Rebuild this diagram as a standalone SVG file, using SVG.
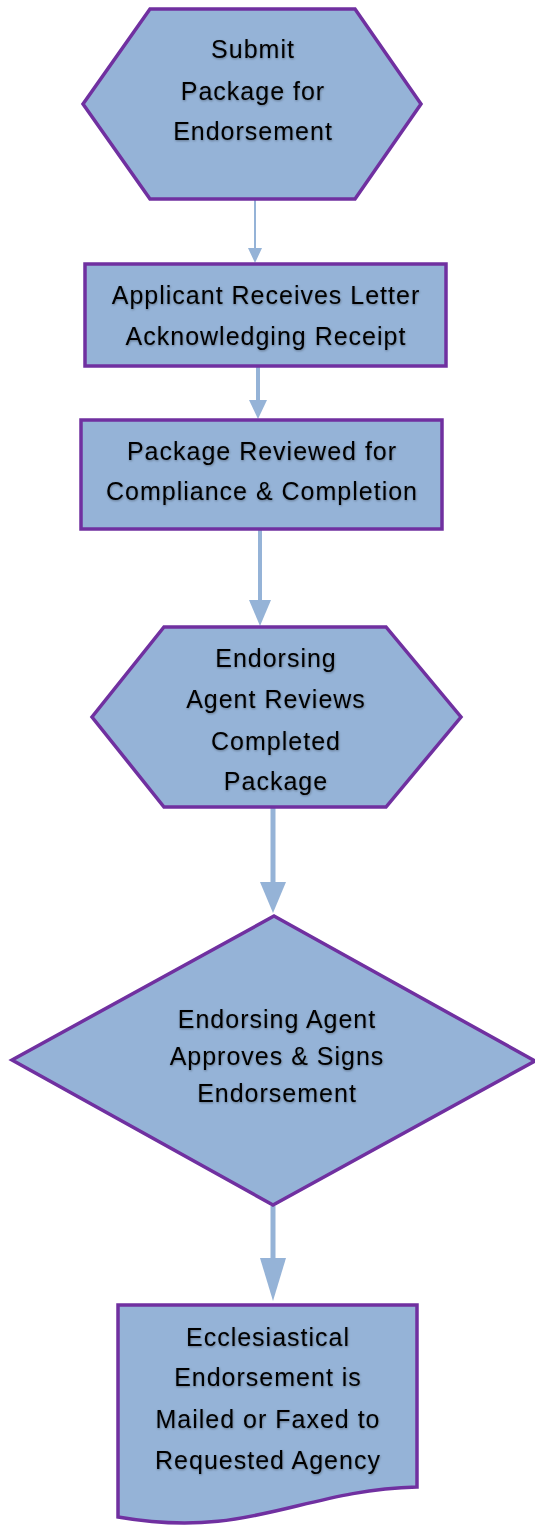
<svg xmlns="http://www.w3.org/2000/svg" width="535" height="1526" viewBox="0 0 535 1526">
<style>
.shape{fill:#95B3D7;stroke:#7030A0;stroke-width:3.5;stroke-linejoin:miter}
.lbl{font-family:"Liberation Sans","DejaVu Sans",sans-serif;font-size:25px;letter-spacing:1px;fill:#000;text-anchor:middle;filter:url(#sh)}
.conn line{stroke:#95B3D7}
.conn polygon{fill:#95B3D7}
</style>
<defs>
<filter id="sh" x="-10%" y="-30%" width="120%" height="160%">
<feDropShadow dx="0.5" dy="1" stdDeviation="1" flood-color="#000" flood-opacity="0.35"/>
</filter>
</defs>
<rect width="535" height="1526" fill="#fff"/>
<g id="connectors" class="conn">
<line x1="255" y1="200" x2="255" y2="250" stroke-width="2"/>
<polygon points="248,248 262,248 255,263"/>
<line x1="258" y1="367" x2="258" y2="402" stroke-width="4"/>
<polygon points="249,400 267,400 258,419"/>
<line x1="260" y1="530" x2="260" y2="602" stroke-width="4"/>
<polygon points="249,600 271,600 260,626"/>
<line x1="273" y1="808" x2="273" y2="884" stroke-width="5"/>
<polygon points="260,882 286,882 273,913"/>
<line x1="273" y1="1206" x2="273" y2="1260" stroke-width="5"/>
<polygon points="260,1258 286,1258 273,1301"/>
</g>
<g id="n1">
<polygon class="shape" points="150,9 355,9 421,104 355,199 150,199 83,104"/>
<text class="lbl" x="253" y="58">Submit</text>
<text class="lbl" x="253" y="100">Package for</text>
<text class="lbl" x="253" y="140">Endorsement</text>
</g>
<g id="n2">
<rect class="shape" x="85" y="264" width="361" height="102"/>
<text class="lbl" x="266" y="304">Applicant Receives Letter</text>
<text class="lbl" x="266" y="345">Acknowledging Receipt</text>
</g>
<g id="n3">
<rect class="shape" x="81" y="420" width="361" height="109"/>
<text class="lbl" x="262" y="460">Package Reviewed for</text>
<text class="lbl" x="262" y="500">Compliance &amp; Completion</text>
</g>
<g id="n4">
<polygon class="shape" points="164,627 386,627 461,717 386,807 164,807 92,717"/>
<text class="lbl" x="276" y="667">Endorsing</text>
<text class="lbl" x="276" y="708">Agent Reviews</text>
<text class="lbl" x="276" y="750">Completed</text>
<text class="lbl" x="276" y="790">Package</text>
</g>
<g id="n5">
<polygon class="shape" points="274,916 535,1061 273,1205 12,1060"/>
<text class="lbl" x="277" y="1028">Endorsing Agent</text>
<text class="lbl" x="277" y="1065">Approves &amp; Signs</text>
<text class="lbl" x="277" y="1102">Endorsement</text>
</g>
<g id="n6">
<path class="shape" d="M118,1305 H417 V1487 C300,1490 250,1540 118,1517 Z"/>
<text class="lbl" x="268" y="1346">Ecclesiastical</text>
<text class="lbl" x="268" y="1386">Endorsement is</text>
<text class="lbl" x="268" y="1428">Mailed or Faxed to</text>
<text class="lbl" x="268" y="1469">Requested Agency</text>
</g>
</svg>
